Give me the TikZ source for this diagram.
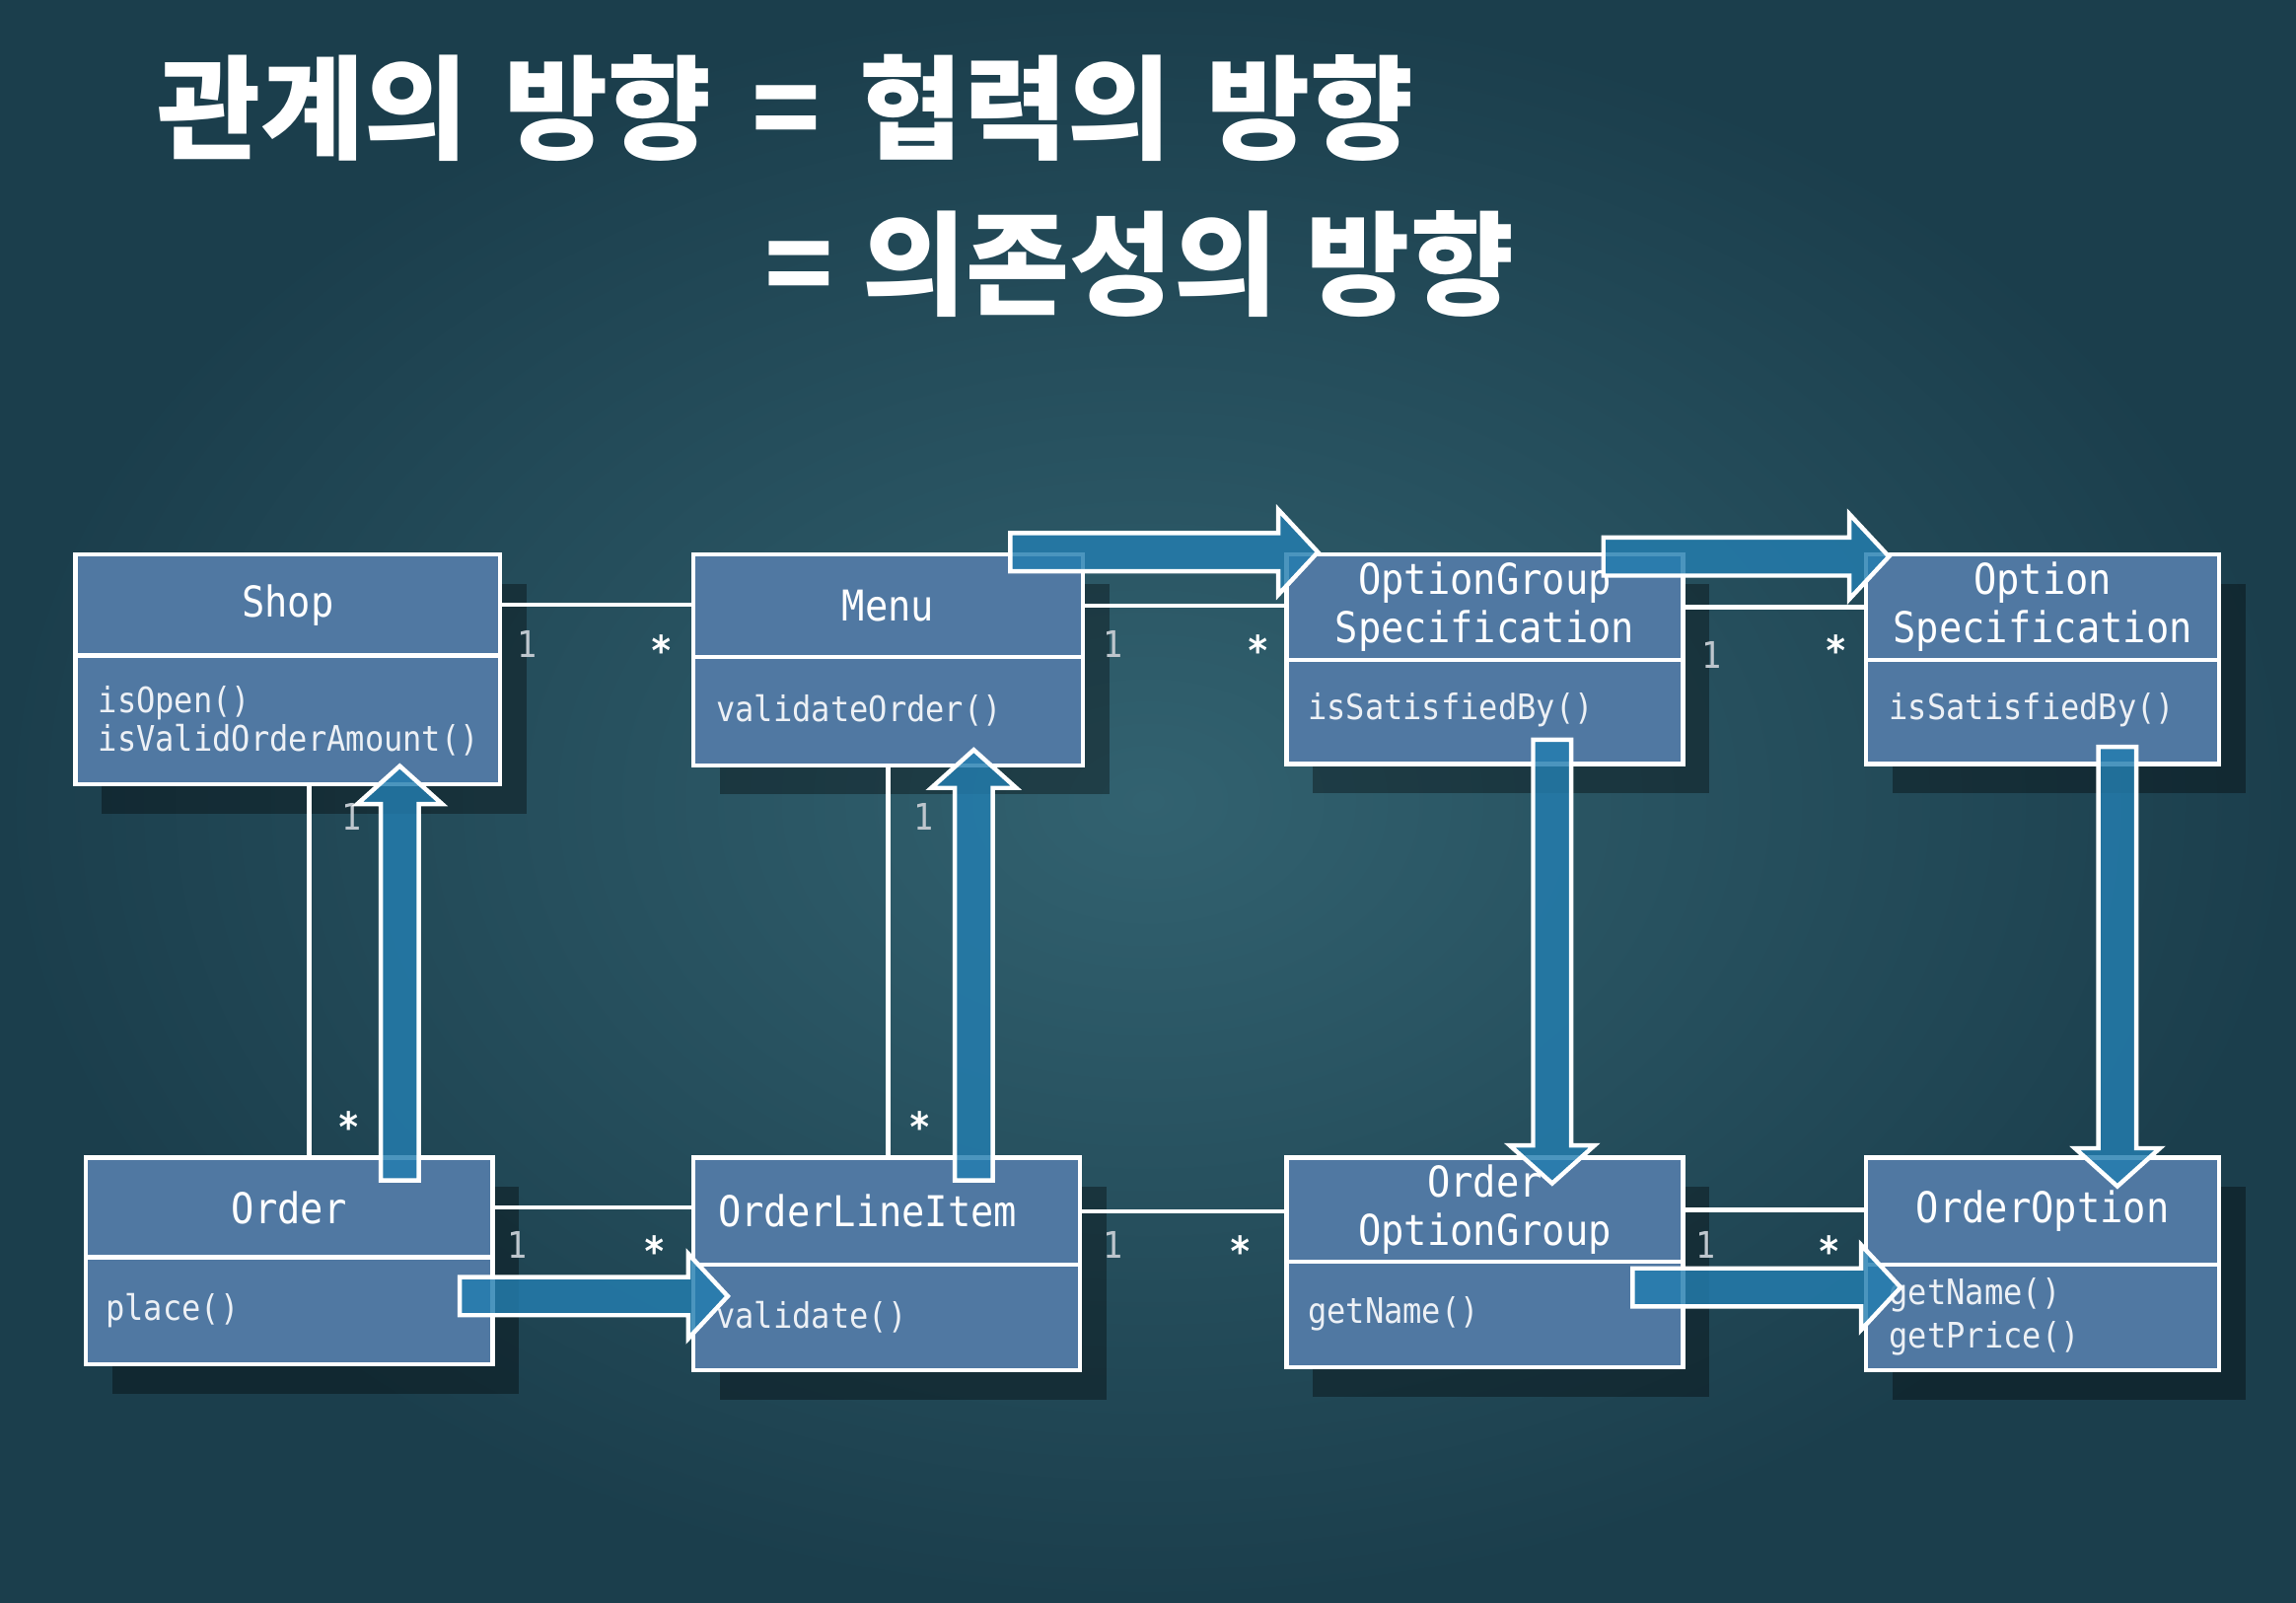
\documentclass[tikz,border=0pt]{standalone}
\usepackage{fontspec}
\newfontfamily\umlfont[FakeStretch=0.9]{DejaVu Sans Mono}
\newfontfamily\krfont{Noto Sans CJK KR}
\usetikzlibrary{shadows}
\definecolor{bgdark}{RGB}{27,62,76}
\definecolor{bglight}{RGB}{50,98,112}
\definecolor{boxblue}{RGB}{80,120,162}
\definecolor{arrowblue}{RGB}{36,126,176}
\definecolor{multgray}{RGB}{190,198,205}
\definecolor{methwhite}{RGB}{236,240,245}

\newcommand\blkarrowh[3]{% x start, x tip, y centre
  \draw[bigarrow] (#1,#3-13) -- (#2-27,#3-13) -- (#2-27,#3-29) -- (#2,#3) -- (#2-27,#3+29) -- (#2-27,#3+13) -- (#1,#3+13) -- cycle;}
\newcommand\blkarrowup[3]{% x centre, y start (bottom), y tip (top)
  \draw[bigarrow] (#1-13,#2) -- (#1-13,#3+26) -- (#1-29,#3+26) -- (#1,#3) -- (#1+29,#3+26) -- (#1+13,#3+26) -- (#1+13,#2) -- cycle;}
\newcommand\blkarrowdown[3]{% x centre, y start (top), y tip (bottom)
  \draw[bigarrow] (#1-13,#2) -- (#1-13,#3-26) -- (#1-29,#3-26) -- (#1,#3) -- (#1+29,#3-26) -- (#1+13,#3-26) -- (#1+13,#2) -- cycle;}

% name, x0, y0, x1, y1, ydiv, title
\newcommand\umlclass[7]{%
  \node[cbox, anchor=north west, minimum width={(#4-#2)*1pt}, minimum height={(#5-#3)*1pt}] (#1) at (#2,#3) {};
  \node[chead, anchor=north west, minimum width={(#4-#2)*1pt}, minimum height={(#6-#3)*1pt}] (#1-h) at (#2,#3) {#7};
}

\begin{document}
\begin{tikzpicture}[x=1pt,y=-1pt,
  cbox/.style={draw=white, line width=3pt, fill=boxblue, inner sep=0pt,
    drop shadow={shadow xshift=18pt, shadow yshift=-20pt, opacity=0.35, fill=black}},
  chead/.style={draw=white, line width=3pt, fill=boxblue, inner sep=0pt, text=white,
    align=center, font=\umlfont\fontsize{29}{33}\selectfont},
  meth/.style={anchor=west, inner sep=0pt, text=methwhite, font=\umlfont\fontsize{24}{26}\selectfont},
  assoc/.style={draw=white, line width=3pt},
  one/.style={inner sep=0pt, text=multgray, font=\umlfont\fontsize{25}{27}\selectfont},
  many/.style={inner sep=0pt, text=white, font=\umlfont\bfseries\fontsize{28}{30}\selectfont},
  bigarrow/.style={draw=white, line width=3pt, fill=arrowblue, fill opacity=0.82, line join=miter},
  titletext/.style={anchor=west, inner sep=0pt, text=white, font=\krfont\bfseries\fontsize{77}{80}\selectfont}
]
\useasboundingbox (0,0) rectangle (1568,1094);
\shade[inner color=bglight, outer color=bgdark] (0,0) rectangle (1568,1094);

% title
\node[titletext] (t1) at (107,74) {관계의\hspace{25pt}방향\hspace{27pt}=\hspace{27pt}협력의\hspace{24pt}방향};
\node[titletext] (t2) at (522,180) {=\hspace{20pt}의존성의\hspace{20pt}방향};

% classes
\umlclass{shop}{50}{377}{340}{534}{446}{Shop}
\umlclass{menu}{472}{377}{738}{521}{447}{Menu}
\umlclass{ogs}{877}{377}{1148}{520}{449}{OptionGroup\\Specification}
\umlclass{os}{1273}{377}{1514}{520}{449}{Option\\Specification}
\umlclass{order}{57}{789}{335}{930}{857}{Order}
\umlclass{oli}{472}{789}{736}{934}{862}{OrderLineItem\hspace*{26pt}}
\umlclass{oog}{877}{789}{1148}{932}{860}{Order\\OptionGroup}
\umlclass{oo}{1273}{789}{1514}{934}{862}{OrderOption}

% methods
\node[meth] (shop-m1) at (67,480) {isOpen()};
\node[meth] (shop-m2) at (67,505) {isValidOrderAmount()};
\node[meth] (menu-m1) at (489,485) {validateOrder()};
\node[meth] (ogs-m1) at (893,485) {isSatisfiedBy()};
\node[meth] (os-m1) at (1290,485) {isSatisfiedBy()};
\node[meth] (order-m1) at (72,895) {place()};
\node[meth] (oli-m1) at (489,899) {validate()};
\node[meth] (oog-m1) at (893,897) {getName()};
\node[meth] (oo-m1) at (1290,884) {getName()};
\node[meth] (oo-m2) at (1290,914) {getPrice()};

% associations
\draw[assoc] (shop-h.east) -- (shop-h.east -| menu-h.west);
\draw[assoc] (menu-h.east) -- (menu-h.east -| ogs-h.west);
\draw[assoc] (ogs-h.east) -- (ogs-h.east -| os-h.west);
\draw[assoc] (order-h.east) -- (order-h.east -| oli-h.west);
\draw[assoc] (oli-h.east) -- (oli-h.east -| oog-h.west);
\draw[assoc] (oog-h.east) -- (oog-h.east -| oo-h.west);
\draw[assoc] (shop.south -| 211,0) -- (order.north -| 211,0);
\draw[assoc] (menu.south) -- (menu.south |- oli.north);

% multiplicities
\node[one] (m1a) at (360,440) {1};
\node[many] (m1b) at (452,444) {*};
\node[one] (m2a) at (760,440) {1};
\node[many] (m2b) at (859,444) {*};
\node[one] (m3a) at (1169,447) {1};
\node[many] (m3b) at (1254,444) {*};
\node[one] (m4a) at (240,558) {1};
\node[many] (m4b) at (238,769) {*};
\node[one] (m5a) at (631,558) {1};
\node[many] (m5b) at (628,769) {*};
\node[one] (m6a) at (353,850) {1};
\node[many] (m6b) at (447,854) {*};
\node[one] (m7a) at (760,850) {1};
\node[many] (m7b) at (847,854) {*};
\node[one] (m8a) at (1165,850) {1};
\node[many] (m8b) at (1249,854) {*};

% direction arrows
\blkarrowh{690}{900}{377}
\blkarrowh{1095}{1290}{380}
\blkarrowh{314}{497}{885}
\blkarrowh{1115}{1298}{879}
\blkarrowup{273}{806}{523}
\blkarrowup{665}{806}{512}
\blkarrowdown{1060}{505}{808}
\blkarrowdown{1446}{510}{810}
\end{tikzpicture}
\end{document}
